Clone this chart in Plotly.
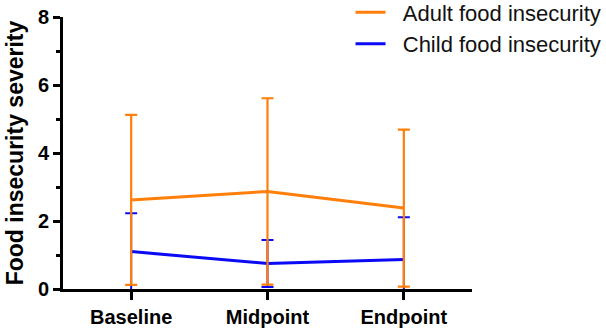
import plotly.graph_objects as go

categories = ["Baseline", "Midpoint", "Endpoint"]
adult_mean = [2.62, 2.87, 2.38]
adult_sd = [2.50, 2.74, 2.31]
child_mean = [1.10, 0.75, 0.87]
child_sd = [1.13, 0.69, 1.24]
y_ticks = [0, 2, 4, 6, 8]

ORANGE = "#FF7F0A"
BLUE = "#0A0AF5"
NB = "\u00a0\u00a0"

fig = go.Figure()
fig.add_trace(go.Scatter(
    x=categories, y=child_mean, mode="lines", name=NB + "Child food insecurity",
    line=dict(color=BLUE, width=3),
    error_y=dict(type="data", array=child_sd, visible=True, color=BLUE, thickness=2, width=6),
))
fig.add_trace(go.Scatter(
    x=categories, y=adult_mean, mode="lines", name=NB + "Adult food insecurity",
    line=dict(color=ORANGE, width=3),
    error_y=dict(type="data", array=adult_sd, visible=True, color=ORANGE, thickness=2.2, width=6),
))

fig.update_layout(
    width=606, height=335,
    margin=dict(l=63, r=134, t=17, b=46, autoexpand=False),
    plot_bgcolor="white", paper_bgcolor="white",
    font=dict(family="Liberation Sans, Arial", color="black"),
    showlegend=True,
    legend=dict(
        traceorder="reversed", x=0.703, y=1.094, xanchor="left", yanchor="top",
        font=dict(size=22, color="#111"), bgcolor="rgba(0,0,0,0)",
        itemwidth=30, tracegroupgap=0,
    ),
)
fig.update_xaxes(
    type="category", range=[-0.5, 2.5],
    showline=True, linecolor="black", linewidth=3,
    ticks="outside", ticklen=8, tickwidth=3, tickcolor="black",
    tickfont=dict(size=20, family="Liberation Sans, Arial", color="black", weight="bold"),
    showgrid=False, zeroline=False,
)
fig.update_yaxes(
    range=[0, 8], tickvals=y_ticks,
    showline=True, linecolor="black", linewidth=3,
    ticks="outside", ticklen=7, tickwidth=3, tickcolor="black",
    minor=dict(ticks="outside", ticklen=4, tickwidth=3, tickcolor="black", dtick=1, showgrid=False),
    tickfont=dict(size=20, family="Liberation Sans, Arial", color="black", weight="bold"),
    title=dict(text="Food insecurity severity", standoff=8,
               font=dict(size=23, family="Liberation Sans, Arial", color="black", weight="bold")),
    showgrid=False, zeroline=False,
)

fig.write_html("out.html")
